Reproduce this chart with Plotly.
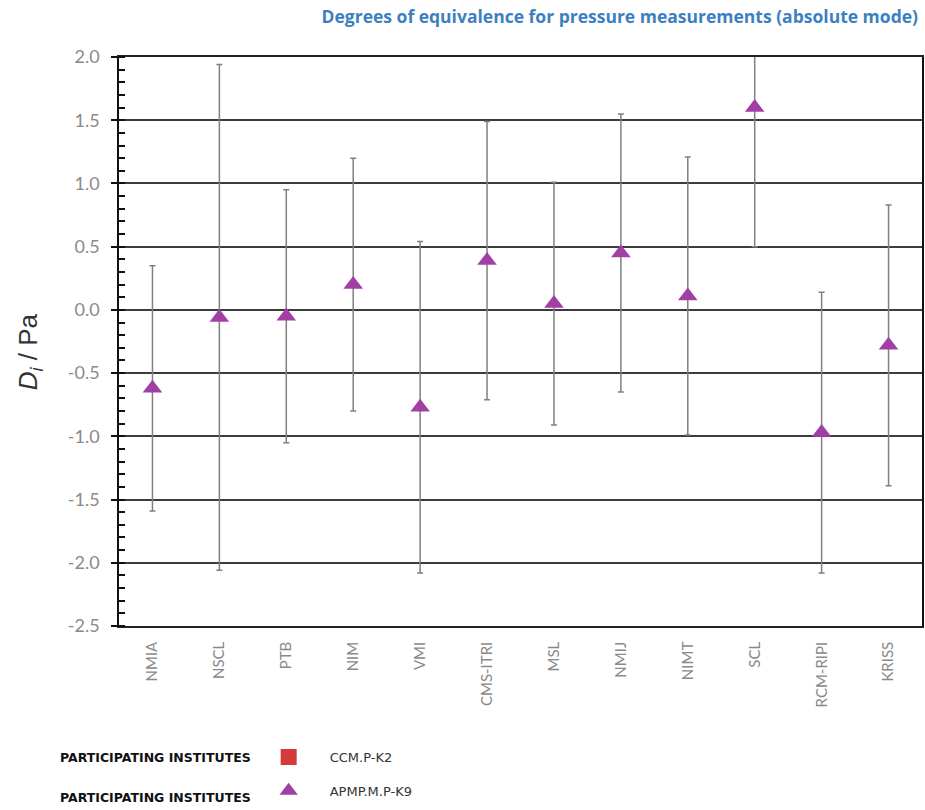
import plotly.graph_objects as go

# Participating institutes (x categories)
institutes = ["NMIA", "NSCL", "PTB", "NIM", "VMI", "CMS-ITRI",
              "MSL", "NMIJ", "NIMT", "SCL", "RCM-RIPI", "KRISS"]
# Degree of equivalence D_i (Pa) and expanded uncertainty U_i (Pa)
di = [-0.62, -0.06, -0.05, 0.20, -0.77, 0.39, 0.05, 0.45, 0.11, 1.60, -0.97, -0.28]
ui = [0.97, 2.00, 1.00, 1.00, 1.31, 1.10, 0.96, 1.10, 1.10, 1.10, 1.11, 1.11]
# Vertical axis ticks (plain hyphen for negatives)
y_ticks = [2.0, 1.5, 1.0, 0.5, 0.0, -0.5, -1.0, -1.5, -2.0, -2.5]
y_tick_text = ["2.0", "1.5", "1.0", "0.5", "0.0", "-0.5", "-1.0", "-1.5", "-2.0", "-2.5"]

W, H = 925, 810
L, R, T, B = 119, 1, 57, 184
PW, PH = W - L - R, H - T - B


def px_x(p):
    return (p - L) / PW


def px_y(p):
    return (H - B - p) / PH


fig = go.Figure()

# CCM.P-K2 key (no data points in this comparison)
fig.add_trace(go.Scatter(
    x=[None], y=[None], mode="markers", name="CCM.P-K2",
    legendgroup="k2",
    marker=dict(symbol="square", size=16, color="#d43a3a"),
))

# APMP.M.P-K9 results with uncertainty bars
fig.add_trace(go.Scatter(
    x=institutes, y=di, mode="markers", name="APMP.M.P-K9",
    legendgroup="k9",
    marker=dict(symbol="triangle-up", size=17, color="#a23fa5"),
    error_y=dict(type="data", array=ui, symmetric=True,
                 color="#808080", thickness=1.5, width=3),
))

fig.update_layout(
    width=W, height=H,
    margin=dict(l=L, r=R, t=T, b=B),
    plot_bgcolor="white", paper_bgcolor="white",
    title=dict(
        text="<b>Degrees of equivalence for pressure measurements (absolute mode)</b>",
        font=dict(family="Open Sans", size=17.5, color="#3d7fc1"),
        x=918 / W, xanchor="right", xref="container",
        y=1 - 17 / H, yanchor="middle", yref="container",
    ),
    showlegend=True,
    legend=dict(
        x=px_x(248), y=px_y(742), xanchor="left", yanchor="top",
        orientation="v", traceorder="grouped", tracegroupgap=14,
        itemwidth=72,
        font=dict(family="DejaVu Sans", size=13, color="#333333"),
        bgcolor="rgba(0,0,0,0)",
    ),
    xaxis=dict(
        type="category", categoryorder="array", categoryarray=institutes,
        range=[-0.5, len(institutes) - 0.5],
        showgrid=False, zeroline=False,
        showline=True, linecolor="#222222", linewidth=1.5, mirror=True,
        ticks="", tickangle=-90, ticklabelstandoff=8,
        tickfont=dict(family="Lato", size=15, color="#8a8a8a"),
    ),
    yaxis=dict(
        range=[-2.5, 2.0], tickmode="array",
        tickvals=y_ticks, ticktext=y_tick_text,
        showgrid=True, gridcolor="#3c3c3c", gridwidth=1.5,
        zeroline=False,
        showline=True, linecolor="#111111", linewidth=1.5, mirror=True,
        ticks="outside", ticklen=6, tickcolor="#111111", tickwidth=1.5,
        minor=dict(dtick=0.1, tick0=0, ticks="inside", ticklen=6,
                   tickcolor="#111111", tickwidth=1.5, showgrid=False),
        ticklabelstandoff=8,
        tickfont=dict(family="Lato", size=18, color="#8a8a8a"),
    ),
)

# Vertical axis title
fig.add_annotation(
    text="<i>D</i><sub><i>i</i></sub> / Pa",
    xref="paper", yref="paper", x=px_x(30), y=px_y(352),
    xanchor="center", yanchor="middle", textangle=-90, showarrow=False,
    font=dict(family="Liberation Sans", size=26, color="#333333"),
)

# Row labels beside the key entries
for ypix in (757, 797):
    fig.add_annotation(
        text="<b>PARTICIPATING INSTITUTES</b>",
        xref="paper", yref="paper", x=px_x(58), y=px_y(ypix),
        xanchor="left", yanchor="middle", showarrow=False,
        font=dict(family="DejaVu Sans", size=12.5, color="#111111"),
    )

fig.write_html("out.html")
